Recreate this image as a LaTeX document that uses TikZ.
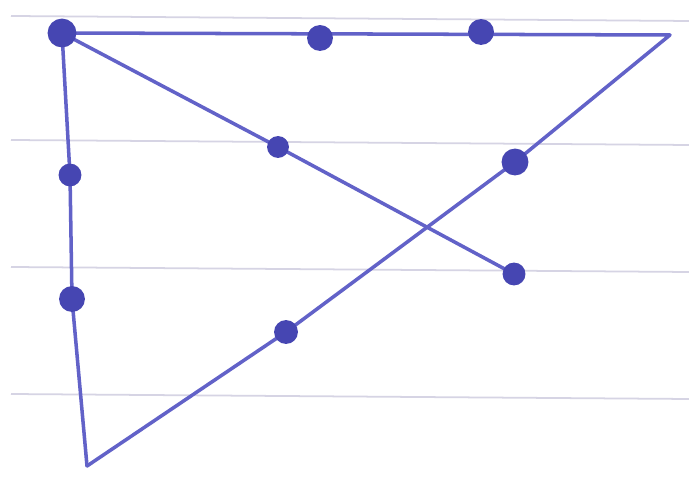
\documentclass[tikz,border=0pt]{standalone}
\usepackage{xcolor}
\usepackage{tikz}
\usetikzlibrary{positioning,backgrounds}
\definecolor{ink}{RGB}{98,98,200}
\definecolor{inkdot}{RGB}{70,70,178}
\definecolor{rule}{RGB}{214,212,228}

\begin{document}
\begin{tikzpicture}[x=0.01cm,y=-0.01cm,
		dot/.style={draw=inkdot, circle, fill=inkdot, line width=0.8pt, inner sep=0pt, minimum size=0.22cm},
		pen/.style={draw=ink, line width=1pt, line cap=round, line join=round},
		ruling/.style={draw=rule, line width=0.5pt}]
			\useasboundingbox (0,0) rectangle (689,495);

			\coordinate (tr) at (670,35);
			\coordinate (bl) at (87,466);

			\node[dot, minimum size=0.26cm] (tl) at (62,33) {};
			\node[dot, minimum size=0.23cm] (t1) at (320,38) {};
			\node[dot, minimum size=0.23cm] (t2) at (481,32) {};
			\node[dot, minimum size=0.19cm] (m1) at (278,147) {};
			\node[dot, minimum size=0.24cm] (r1) at (515,162) {};
			\node[dot, minimum size=0.2cm] (d1) at (514,274) {};
			\node[dot, minimum size=0.2cm] (l1) at (70,175) {};
			\node[dot, minimum size=0.23cm] (l2) at (72,299) {};
			\node[dot, minimum size=0.21cm] (b1) at (286,332) {};

			\begin{scope}[on background layer]
				\fill[white] (0,0) rectangle (689,495);
				% ruled paper
				\foreach \y in {16,140,267,394}
					\draw[ruling] (11,\y) -- (689,\y+5);

				\draw[pen] (tl.center)--(tr)--(r1.center)--(b1.center)--(bl);
				\draw[pen] (tl.center)--(l1.center)--(l2.center)--(bl);
				\draw[pen] (tl.center)--(m1.center)--(d1.center);
			\end{scope}
		\end{tikzpicture}
\end{document}
